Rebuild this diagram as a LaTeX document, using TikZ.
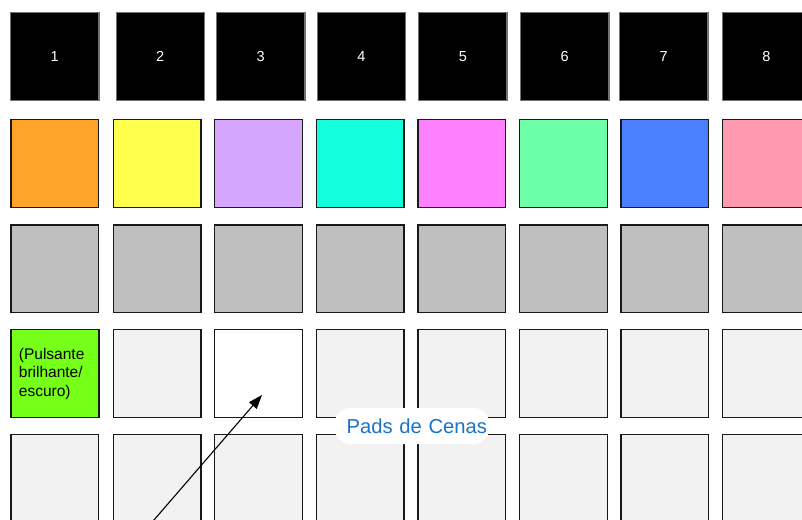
\documentclass[tikz,border=0pt]{standalone}
\usepackage{fontspec}
\setmainfont{Liberation Sans}
\usepackage{tikz}
\usetikzlibrary{arrows.meta, positioning}

\definecolor{padOrange}{RGB}{255,163,41}
\definecolor{padYellow}{RGB}{255,255,77}
\definecolor{padLilac}{RGB}{214,166,255}
\definecolor{padCyan}{RGB}{20,255,220}
\definecolor{padMagenta}{RGB}{255,128,255}
\definecolor{padMint}{RGB}{110,255,170}
\definecolor{padBlue}{RGB}{74,128,255}
\definecolor{padPink}{RGB}{255,153,176}
\definecolor{padGrey}{RGB}{191,191,191}
\definecolor{padLight}{RGB}{242,242,242}
\definecolor{padGreen}{RGB}{118,255,24}
\definecolor{labelBlue}{RGB}{26,115,200}

\begin{document}
\begin{tikzpicture}[
  x=1pt, y=-1pt,
  pad/.style={rectangle, draw=black!90, line width=1.3pt, minimum size=87.7pt,
              inner sep=0pt},
  numpad/.style={pad, draw=black!55, fill=black, text=white,
                 minimum size=88.2pt, font=\fontsize{14.5}{17}\selectfont},
  callout/.style={rectangle, rounded corners=15pt, fill=white, text=labelBlue,
                  minimum height=36pt, text width=150pt, align=right,
                  inner xsep=2pt, inner ysep=0pt,
                  font=\fontsize{20.2}{24}\selectfont},
  arrow/.style={-{Triangle[length=14pt, width=10pt]}, line width=1.1pt},
]
\useasboundingbox (0,0) rectangle (802,519);
\clip (0,0) rectangle (802,519);

% top row: numbered pads
\foreach \i/\x in {1/54.75, 2/160.25, 3/260.75, 4/361.45,
                   5/462.8, 6/564.75, 7/663.75, 8/766.45}
  \node[numpad] (num\i) at (\x, 56.5) {\i};

% colour row and grey row
\foreach \i/\x/\c in {1/54.9/padOrange, 2/157.1/padYellow, 3/258.4/padLilac,
                      4/360.1/padCyan, 5/461.7/padMagenta, 6/563.4/padMint,
                      7/664.7/padBlue, 8/766.4/padPink}{
  \node[pad, fill=\c]     (clr\i)  at (\x, 163.5) {};
  \node[pad, fill=padGrey] (grey\i) at (\x, 268.8) {};
}

% scene rows
\node[pad, fill=padGreen, text width=72pt, align=left, inner xsep=8pt,
      font=\fontsize{15.5}{18.5}\selectfont]
  (scA1) at (54.9, 373.5) {(Pulsante\\brilhante/\\escuro)};
\node[pad, fill=white] (scA3) at (258.4, 373.5) {};
\foreach \i/\x in {2/157.1, 4/360.1, 5/461.7, 6/563.4, 7/664.7, 8/766.4}
  \node[pad, fill=padLight] (scA\i) at (\x, 373.5) {};
\foreach \i/\x in {1/54.9, 2/157.1, 3/258.4, 4/360.1,
                   5/461.7, 6/563.4, 7/664.7, 8/766.4}
  \node[pad, fill=padLight] (scB\i) at (\x, 478.5) {};

\node[callout] (scenes) at (412, 426) {Pads de Cenas};

\coordinate (tail) at (141, 535);
\coordinate (tip)  at (262, 395);
\draw[arrow] (tail) -- (tip);
\end{tikzpicture}
\end{document}
